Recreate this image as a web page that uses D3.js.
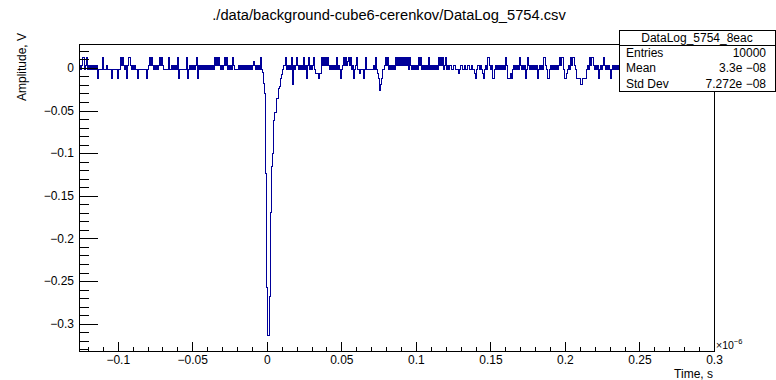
<!DOCTYPE html>
<html><head><meta charset="utf-8">
<script src="https://cdn.jsdelivr.net/npm/d3@7"></script>
<style>
body{margin:0;background:#fff}
svg text{font-family:"Liberation Sans",Arial,Helvetica,sans-serif;fill:#000}
</style>
</head><body>
<svg id="c" width="776" height="380"></svg>
<script>
// ---------- data ----------
const title = "./data/background-cube6-cerenkov/DataLog_5754.csv";
const xTickValues = [-0.1,-0.05,0,0.05,0.1,0.15,0.2,0.25,0.3];
const xTickLabels = ["\u22120.1","\u22120.05","0","0.05","0.1","0.15","0.2","0.25","0.3"];
const yTickValues = [0,-0.05,-0.1,-0.15,-0.2,-0.25,-0.3];
const yTickLabels = ["0","\u22120.05","\u22120.1","\u22120.15","\u22120.2","\u22120.25","\u22120.3"];
const xDomain = [-0.126, 0.3];   // time, x10^-6 s
const yDomain = [-0.332, 0.028]; // amplitude, V
const xTitle = "Time, s";
const yTitle = "Amplitude, V";
const statsName = "DataLog_5754_8eac";
const statsLabels = ["Entries","Mean","Std Dev"];
const statsValues = ["10000","3.3e \u221208","7.272e \u221208"];

// waveform amplitude per bin, in mV (equal-width bins across the time range)
const noiseA = [
 3,-2,3,12,12,-2,3,12,-2,3,
 -2,3,-2,3,-2,3,-2,3,-12,-2,
 -2,-2,-2,12,-2,-2,-2,3,-2,-2,
 -2,-2,-12,-2,-2,-2,-2,-2,-12,-2,
 -2,12,3,12,3,-2,3,-12,3,12,
 12,3,-2,3,-2,3,-2,-2,-12,-2,
 -2,-2,-2,-2,-2,-2,-2,-12,-2,3,
 12,3,12,3,-2,3,-2,3,-2,3,
 12,3,12,3,-2,-2,-2,-2,-2,12,
 -2,-2,3,-2,3,-2,3,-2,12,-12,
 -2,-2,-2,-2,-2,-2,-2,12,-12,-2,
 3,-2,3,-2,3,-2,3,12,-12,3,
 -2,3,-2,3,-2,3,-2,3,-2,3,
 -2,3,-2,3,-2,12,3,12,3,12,
 3,-2,3,-2,3,12,3,12,-2,3,
 -2,3,-2,12,3,-2,-2,-2,-2,3,
 -2,3,-2,3,-2,3,-2,3,-2,3,
 -2,3,-2,3,7,3,-2,3,-2,3,
 -2,12,-2
];
const pulse = [
 -6,-18,-30,-124,-258,-314,-314,-268,-170,-116,
 -100,-62,-52,-52,-36,-36,-24,-22,-12,-8,
 -2,3
];
const noiseB = [
 3,12,-2,3,-2,3,-2,12,-20,3,
 -2,3,12,3,-2,3,-2,3,-2,12,
 -2,3,-12,3,12,-2,3,-2,3,12,
 -2,-7,-7,-7,-12,-7,-7,12,3,12,
 3,12,3,12,3,-2,3,-2,3,-2,
 3,-2,12,-2,3,-2,-12,-2,3,12,
 3,12,3,7,12,3,12,-2,3,-12,
 -2,3,12,-2,-2,-7,-2,-2,-2,-12,
 -2,12,-2,-2,-2,-2,-2,-2,-2,3,
 -2,12,-2,-7,-12,-26,-20,-12,-2,-2,
 3,12,3,12,-2,3,-2,3,-2,3,
 -2,12,3,12,3,12,3,12,3,12,
 3,12,3,12,-2,12,3,-2,3,-2,
 3,-2,3,-2,12,3,12,-2,3,-2,
 3,-2,3,-2,12,-2,3,-2,3,-2,
 3,-2,3,-2,12,3,12,3,12,-2,
 3,12,-2,3,-2,3
];
const noiseC = [
 3,-2,-2,3,3,-2,-2,-2,-7,-2,
 3,3,-2,-2,3,-2,-2,3,3,-2,
 -2,3,-2,-2,-7,-12,-2,3,3,-2,
 3,-2,-7,-12,-2,3,-2,12,12,3,
 -2,3,-12,-12,-2,3,-2,3,-2,3,
 -2,3,-2,3,-2,12,3,-12,-12,-12,
 -7,-12,-2,3,-2,3,-2,3,-2,12,
 3,-2,3,-2,3,-12,-2,12,3,-2,
 3,-2,3,-2,3,-2,3,-12,-2,3,
 -2,3,-2,12,12,3,-2,-12,-12,-2,
 3,-2,3,-2,3,-2,3,-2,3,12,
 3,12,12,-2,-12,-12,-7,-2,3,-2,
 12,3,12,12,3,-2,-12,-12,-12,-12,
 -20,-20,-12,-12,-12,-12,-2,3,-2,12,
 3,12,12,3,-2,3,-2,3,-12,-2,
 3,-2,3,12,3,-2,3,-2,3,-2,
 -12,-2,3,-2,3,-2,3,-2
];
const noiseD = [
 3,-2,3,-2,12,3,-2,3,-2,3,
 -2,3,-2,-12,-2,3,-2,3,12,3,
 -2,3,-2,3,-2,-2,-2,3,-2,3,
 -2,3,12,3,-2,3,-2,-12,-2,3,
 -2,3,-2,3,-2,3,12,3,-2,3,
 -2,-2,-2,3,-2,3,-2,3,-2,3,
 -12,-2,3,-2,3,12,3,-2,3,-2,
 3,-2,3,-2,3,-2,-2,-2,3,-2,
 3,12,3,-2,3,-2,3,-2,3,-2,
 3,-2,3,-2,3,-2
];

// ---------- layout ----------
const frame = {left: 79, right: 714, top: 44, bottom: 351};
const svg = d3.select("#c");

const x = d3.scaleLinear().domain(xDomain).range([frame.left, frame.right]);
const y = d3.scaleLinear().domain(yDomain).range([frame.bottom, frame.top]);

const amps = [].concat(noiseA, pulse, noiseB, noiseC, noiseD).map(v => v / 1000);
const N = amps.length;
const binW = (xDomain[1] - xDomain[0]) / N;
const pts = amps.map((v, i) => [xDomain[0] + i * binW, v]);
pts.push([xDomain[1], amps[N - 1]]);

svg.append("defs").append("clipPath").attr("id", "clip")
  .append("rect").attr("x", frame.left).attr("y", frame.top)
  .attr("width", frame.right - frame.left).attr("height", frame.bottom - frame.top);

// waveform
svg.append("path")
  .datum(pts)
  .attr("clip-path", "url(#clip)")
  .attr("fill", "none")
  .attr("stroke", "#000099")
  .attr("stroke-width", 1)
  .attr("shape-rendering", "crispEdges")
  .attr("d", d3.line().x(d => x(d[0])).y(d => y(d[1])).curve(d3.curveStepAfter));

// frame
svg.append("rect")
  .attr("x", frame.left).attr("y", frame.top)
  .attr("width", frame.right - frame.left).attr("height", frame.bottom - frame.top)
  .attr("fill", "none").attr("stroke", "#000").attr("stroke-width", 1)
  .attr("shape-rendering", "crispEdges");

// x axis
const xMinor = d3.range(-12, 31).map(i => i / 100);
const gxm = svg.append("g").attr("transform", `translate(0,${frame.bottom})`)
  .call(d3.axisBottom(x).tickValues(xMinor).tickSizeInner(-4.5).tickSizeOuter(0).tickFormat(""));
const gx = svg.append("g").attr("transform", `translate(0,${frame.bottom})`)
  .call(d3.axisBottom(x).tickValues(xTickValues).tickSizeInner(-9).tickSizeOuter(0).tickPadding(4)
    .tickFormat((d, i) => xTickLabels[i]));

// y axis
const yMinor = d3.range(-33, 3).map(i => i / 100);
const gym = svg.append("g").attr("transform", `translate(${frame.left},0)`)
  .call(d3.axisLeft(y).tickValues(yMinor).tickSizeInner(-9.5).tickSizeOuter(0).tickFormat(""));
const gy = svg.append("g").attr("transform", `translate(${frame.left},0)`)
  .call(d3.axisLeft(y).tickValues(yTickValues).tickSizeInner(-19).tickSizeOuter(0).tickPadding(5)
    .tickFormat((d, i) => yTickLabels[i]));

[gxm, gx, gym, gy].forEach(g => {
  g.select(".domain").remove();
  g.selectAll("line").attr("stroke", "#000").attr("shape-rendering", "crispEdges");
  g.selectAll("text").attr("font-size", 12).attr("font-family", "'Liberation Sans',Arial,sans-serif").attr("fill", "#000");
});

// titles
svg.append("text").attr("x", 389).attr("y", 20).attr("text-anchor", "middle")
  .attr("font-size", 14.7).text(title);

svg.append("text").attr("x", frame.right - 1).attr("y", 377.5).attr("text-anchor", "end")
  .attr("font-size", 12).text(xTitle);

svg.append("text").attr("transform", `translate(26,33) rotate(-90)`)
  .attr("text-anchor", "end").attr("font-size", 12).text(yTitle);

const mult = svg.append("text").attr("x", 716).attr("y", 349).attr("font-size", 10.5);
mult.append("tspan").text("\u00d710");
mult.append("tspan").attr("dy", -5).attr("font-size", 7.5).text("\u22126");

// stats box
const sb = {x: 619, y: 30, w: 156, h: 61, head: 15};
const g = svg.append("g");
g.append("rect").attr("x", sb.x).attr("y", sb.y).attr("width", sb.w).attr("height", sb.h)
  .attr("fill", "#fff").attr("stroke", "#000").attr("shape-rendering", "crispEdges");
g.append("line").attr("x1", sb.x).attr("x2", sb.x + sb.w).attr("y1", sb.y + sb.head).attr("y2", sb.y + sb.head)
  .attr("stroke", "#000").attr("shape-rendering", "crispEdges");
g.append("text").attr("x", sb.x + sb.w / 2).attr("y", sb.y + sb.head / 2).attr("dy", "0.35em")
  .attr("text-anchor", "middle").attr("font-size", 12).text(statsName);
const rowH = (sb.h - sb.head) / statsLabels.length;
statsLabels.forEach((lab, i) => {
  const cy = sb.y + sb.head + rowH * (i + 0.5);
  g.append("text").attr("x", sb.x + 7).attr("y", cy).attr("dy", "0.35em").attr("font-size", 12).text(lab);
  g.append("text").attr("x", sb.x + sb.w - 9).attr("y", cy).attr("dy", "0.35em")
    .attr("text-anchor", "end").attr("font-size", 12).text(statsValues[i]);
});
</script>
</body></html>
